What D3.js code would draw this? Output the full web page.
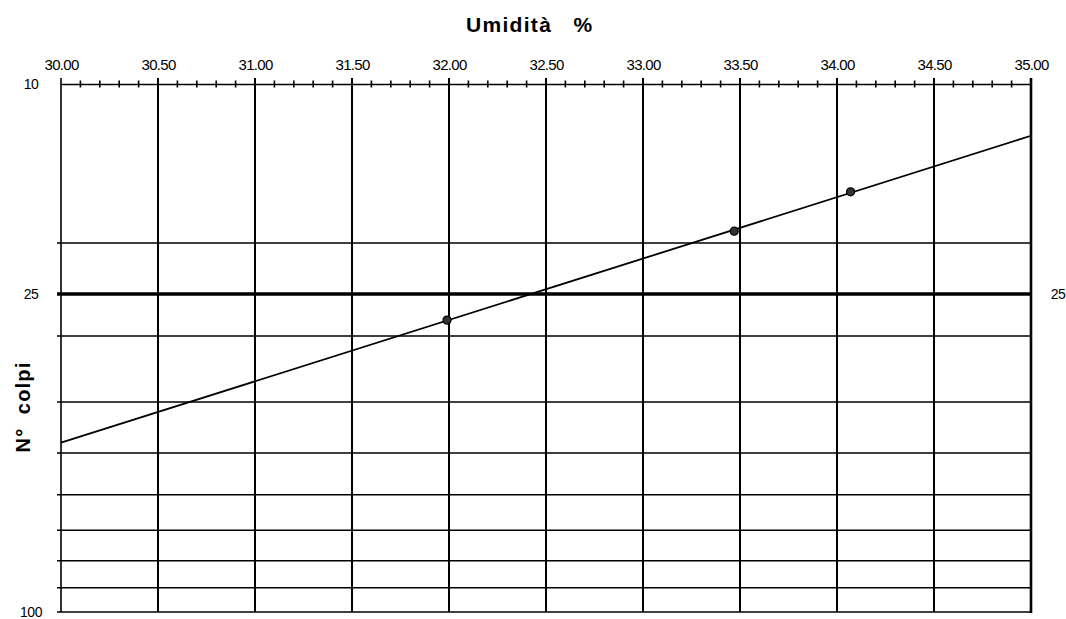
<!DOCTYPE html>
<html>
<head>
<meta charset="utf-8">
<script src="https://cdn.jsdelivr.net/npm/d3@7"></script>
<style>
  html, body { margin: 0; padding: 0; background: #fff; }
  svg { display: block; font-family: "Liberation Sans", Arial, sans-serif; }
</style>
</head>
<body>
<svg id="chart" width="1066" height="619"></svg>
<script>
// Liquid limit test: water content (%) against number of blows (log scale)
const moisture = [31.99, 33.47, 34.07];
const blows = [28, 19, 16];

const xTicks = [30.00, 30.50, 31.00, 31.50, 32.00, 32.50, 33.00, 33.50, 34.00, 34.50, 35.00];
const yGridValues = [20, 25, 30, 40, 50, 60, 70, 80, 90];
const yLabelsLeft = [10, 25, 100];
const yLabelsRight = [25];

const margin = { left: 61, right: 35, top: 84, bottom: 7 };
const W = 1066, H = 619;

const svg = d3.select("#chart");

const x = d3.scaleLinear().domain([30, 35]).range([margin.left, W - margin.right]);
const y = d3.scaleLog().domain([10, 100]).range([margin.top, H - margin.bottom]);

const x0 = x.range()[0], x1 = x.range()[1];
const y0 = y.range()[0], y1 = y.range()[1];

// horizontal grid lines (25 blows drawn heavier)
svg.append("g").selectAll("line").data(yGridValues).join("line")
  .attr("x1", x0 - 4).attr("x2", x1)
  .attr("y1", d => y(d)).attr("y2", d => y(d))
  .attr("stroke", "#000")
  .attr("stroke-width", d => d === 25 ? 3.5 : 1.5);

// bottom line
svg.append("line").attr("x1", x0 - 4).attr("x2", x1).attr("y1", y1).attr("y2", y1)
  .attr("stroke", "#000").attr("stroke-width", 1.5);

// vertical grid lines
svg.append("g").selectAll("line").data(xTicks.slice(1, -1)).join("line")
  .attr("x1", d => x(d)).attr("x2", d => x(d))
  .attr("y1", y0 - 6).attr("y2", y1)
  .attr("stroke", "#000").attr("stroke-width", 2);

// left and right borders
svg.append("line").attr("x1", x0).attr("x2", x0).attr("y1", y0 - 6).attr("y2", y1)
  .attr("stroke", "#000").attr("stroke-width", 1.6);
svg.append("line").attr("x1", x1).attr("x2", x1).attr("y1", y0 - 6).attr("y2", y1 + 1)
  .attr("stroke", "#000").attr("stroke-width", 2.6);

// top axis with minor ticks every 0.1
const topAxis = d3.axisTop(x).tickValues(xTicks).tickFormat(d3.format(".2f"))
  .tickSizeInner(0).tickSizeOuter(0).tickPadding(14);
const gx = svg.append("g").attr("transform", `translate(0,${y0})`).call(topAxis);
gx.select(".domain").attr("stroke", "#000").attr("stroke-width", 1.6);
gx.selectAll("text").attr("font-size", 15).attr("letter-spacing", -0.7).attr("fill", "#000");
const minor = d3.range(300, 351).map(v => v / 10).filter(v => Math.round(v * 10) % 5 !== 0);
svg.append("g").selectAll("line").data(minor).join("line")
  .attr("x1", d => x(d)).attr("x2", d => x(d))
  .attr("y1", y0 - 3.5).attr("y2", y0 + 3.5)
  .attr("stroke", "#000").attr("stroke-width", 1.6);

// y labels
svg.append("g").selectAll("text").data(yLabelsLeft).join("text")
  .attr("x", 31).attr("y", d => y(d)).attr("dy", "0.35em")
  .attr("text-anchor", "middle").attr("font-size", 14).attr("letter-spacing", -0.5)
  .text(d => d);
svg.append("g").selectAll("text").data(yLabelsRight).join("text")
  .attr("x", 1058).attr("y", d => y(d)).attr("dy", "0.35em")
  .attr("text-anchor", "middle").attr("font-size", 14).attr("letter-spacing", -0.5)
  .text(d => d);

// least-squares trend line of log10(blows) on water content
const L = blows.map(b => Math.log10(b));
const mx = d3.mean(moisture), mL = d3.mean(L);
const sxy = d3.sum(moisture, (w, i) => (w - mx) * (L[i] - mL));
const sxx = d3.sum(moisture, w => (w - mx) ** 2);
const slope = sxy / sxx, icpt = mL - slope * mx;
const trendX = x.domain();
svg.append("path")
  .datum(trendX.map(w => [w, Math.pow(10, icpt + slope * w)]))
  .attr("d", d3.line().x(d => x(d[0])).y(d => y(d[1])))
  .attr("fill", "none").attr("stroke", "#000").attr("stroke-width", 1.8);

// measured points
svg.append("g").selectAll("circle").data(moisture).join("circle")
  .attr("cx", d => x(d)).attr("cy", (d, i) => y(blows[i]))
  .attr("r", 4).attr("fill", "#333").attr("stroke", "#000").attr("stroke-width", 1.3);

// axis titles
svg.append("text").attr("x", 466).attr("y", 32)
  .attr("font-size", 21).attr("font-weight", "bold").attr("letter-spacing", 1.3)
  .style("white-space", "pre")
  .text("Umidità   %");
svg.append("text").attr("transform", "translate(30,407) rotate(-90)")
  .attr("text-anchor", "middle")
  .attr("font-size", 20).attr("font-weight", "bold").attr("letter-spacing", 1.2)
  .style("white-space", "pre")
  .text("N°  colpi");
</script>
</body>
</html>
